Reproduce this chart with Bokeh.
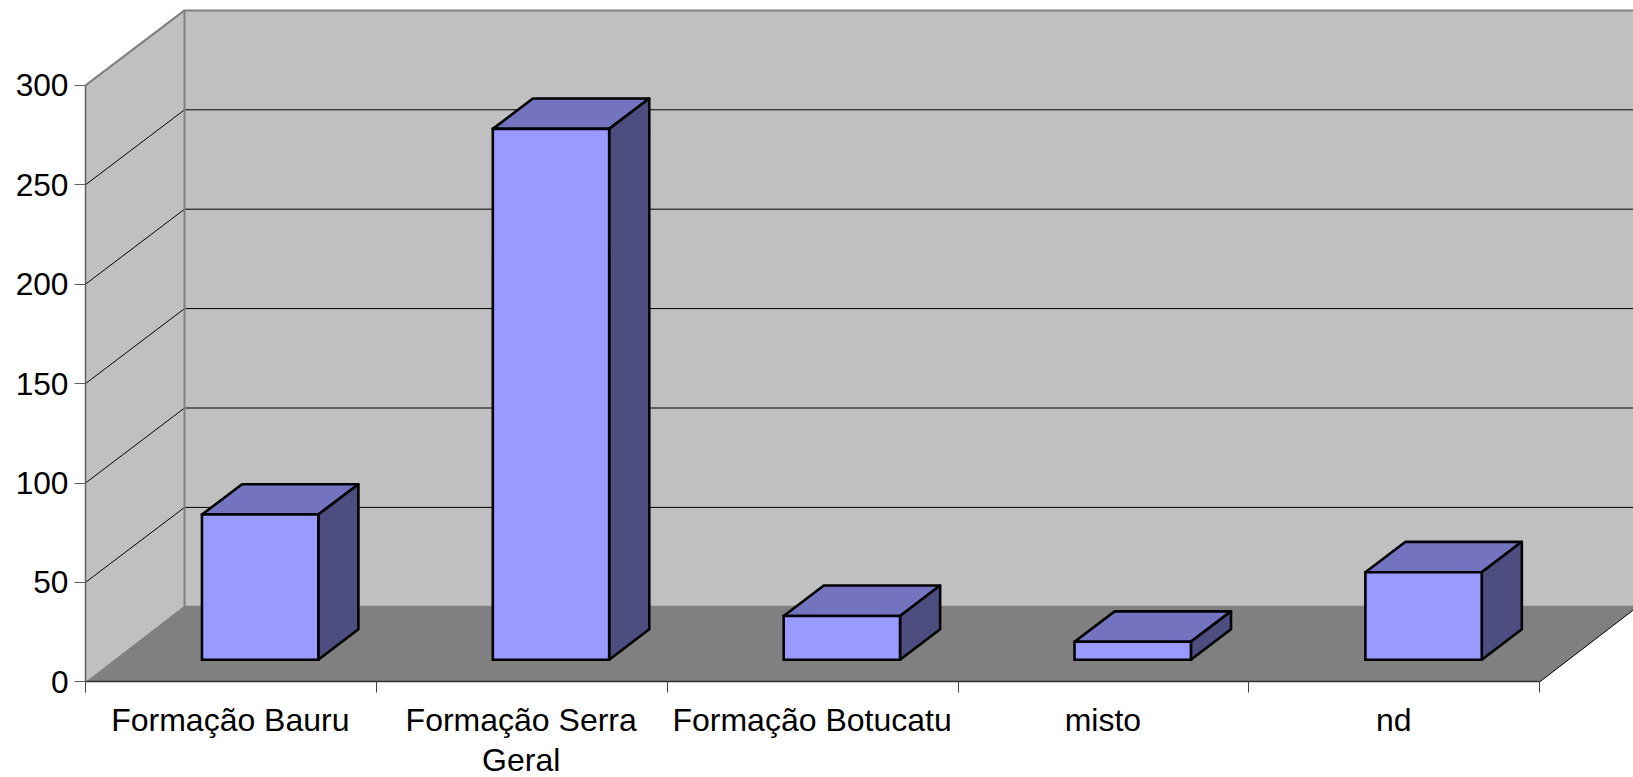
from bokeh.plotting import figure
from bokeh.models import FixedTicker, AllLabels
from bokeh.core.properties import value
from bokeh.embed import file_html
from bokeh.resources import INLINE

# Data
categories = ["Formação Bauru", "Formação Serra", "Formação Botucatu", "misto", "nd"]
second_lines = ["", "Geral", "", "", ""]
values = [73, 267, 22, 9, 44]
y_ticks = [0, 50, 100, 150, 200, 250, 300]

# Layout (pixels in the figure)
W, H = 1633, 777
PX_PER_CAT = 290.86
PX_PER_UNIT = 1.988
X0_PX, Y0_PX = 85.0, 681.3     # where (0, 0) sits, from the left / from the top
DX = 99.0 / PX_PER_CAT         # wall depth, in axis units
DY = 75.0 / PX_PER_UNIT
FLOOR_DY = 76.0 / PX_PER_UNIT
BAR_W = 0.4
D0, D1 = 0.295, 0.70           # bar depth extent, fraction of wall depth
LABEL_POS = 0.498              # label centre inside a category
LINE2_PX = 759.5               # middle of second label lines, from the top

FONT = "Liberation Sans"
XSIZE = "32px"
YSIZE = "31.7px"
N = len(categories)
YMAX = max(y_ticks)

p = figure(
    width=W, height=H, output_backend="svg", toolbar_location=None,
    x_range=(-X0_PX / PX_PER_CAT, (W - X0_PX) / PX_PER_CAT),
    y_range=(-(H - Y0_PX) / PX_PER_UNIT, Y0_PX / PX_PER_UNIT),
    min_border=0, outline_line_color=None, background_fill_color="white",
    border_fill_color="white",
)
p.grid.visible = False

# Walls and floor
p.patch([0, 0, DX, DX], [0, YMAX, YMAX + DY, DY], fill_color="#C0C0C0", line_color=None)
p.patch([DX, DX, N + DX, N + DX], [DY, YMAX + DY, YMAX + DY, DY], fill_color="#C0C0C0", line_color=None)

# Gridlines
grid = [v for v in y_ticks if 0 < v < YMAX]
p.multi_line([[0, DX, N + DX] for _ in grid],
             [[v, v + DY, v + DY] for v in grid],
             line_color="#000000", line_width=1)

# Wall edges
p.line([0, DX, N + DX], [YMAX, YMAX + DY, YMAX + DY], line_color="#808080", line_width=2)
p.line([DX, DX], [DY, YMAX + DY], line_color="#808080", line_width=2)

# Floor
p.patch([0, N, N + DX, DX], [0, 0, FLOOR_DY, FLOOR_DY], fill_color="#808080", line_color=None)
p.line([N, N + DX], [0, FLOOR_DY], line_color="#000000", line_width=1)

# Bars
lefts = [i + (1 - BAR_W) / 2 + D0 * DX for i in range(N)]
rights = [l + BAR_W for l in lefts]
base = D0 * DY
tops = [base + v for v in values]
ddx = (D1 - D0) * DX
ddy = (D1 - D0) * DY
style = dict(line_color="#000000", line_width=2.6)
p.patches([[l, r, r + ddx, l + ddx] for l, r in zip(lefts, rights)],
          [[t, t, t + ddy, t + ddy] for t in tops],
          fill_color="#7373BF", line_join="round", **style)
p.patches([[r, r, r + ddx, r + ddx] for r in rights],
          [[base, t, t + ddy, base + ddy] for t in tops],
          fill_color="#4D4D80", line_join="round", **style)
p.quad(left=lefts, right=rights, bottom=base, top=tops, fill_color="#9999FF",
       line_join="miter", **style)

# Axes
xa = p.xaxis[0]
xa.fixed_location = 0
xa.bounds = (0, N)
xa.ticker = FixedTicker(ticks=[i + LABEL_POS for i in range(N)], minor_ticks=list(range(N + 1)))
xa.major_label_overrides = {i + LABEL_POS: c for i, c in enumerate(categories)}
xa.major_label_policy = AllLabels()
xa.major_tick_in = 0
xa.major_tick_out = 0
xa.minor_tick_in = 0
xa.minor_tick_out = 11
xa.minor_tick_line_color = "#404040"
xa.axis_line_color = "#303030"
xa.axis_line_width = 1.5
xa.major_label_text_font = FONT
xa.major_label_text_font_size = XSIZE
xa.major_label_text_color = "#000000"
xa.major_label_standoff = 9

ya = p.yaxis[0]
ya.fixed_location = 0
ya.bounds = (0, YMAX)
ya.ticker = FixedTicker(ticks=y_ticks, minor_ticks=[])
ya.major_label_policy = AllLabels()
ya.major_tick_in = 0
ya.major_tick_out = 11
ya.major_tick_line_color = "#606060"
ya.axis_line_color = "#606060"
ya.axis_line_width = 1.5
ya.major_label_text_font = FONT
ya.major_label_text_font_size = YSIZE
ya.major_label_text_color = "#000000"
ya.major_label_standoff = 6

# Second lines of the wrapped category labels
extra = [(i + LABEL_POS, t) for i, t in enumerate(second_lines) if t]
p.text(x=[e[0] for e in extra], y=[(Y0_PX - LINE2_PX) / PX_PER_UNIT] * len(extra),
       text=[e[1] for e in extra], text_font=value(FONT), text_font_size=XSIZE,
       text_color="#000000", text_align="center", text_baseline="middle")

open("out.html", "w").write(file_html(p, INLINE))
